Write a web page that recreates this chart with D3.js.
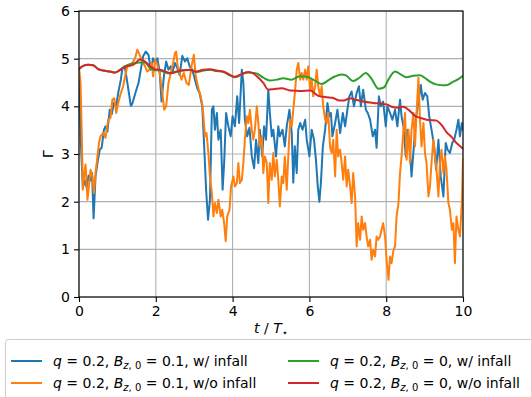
<!DOCTYPE html>
<html>
<head>
<meta charset="utf-8">
<script src="https://cdn.jsdelivr.net/npm/d3@7"></script>
<style>
  html, body { margin: 0; padding: 0; background: #fff; }
  svg { display: block; font-family: "DejaVu Sans", sans-serif; }
</style>
</head>
<body>
<svg id="chart" width="531" height="397"></svg>
<script>
// Growth-rate histories Γ(t) for four runs, time in units of T⋆
const xTicks = [0, 2, 4, 6, 8, 10];
const yTicks = [0, 1, 2, 3, 4, 5, 6];

const bz01Infall = [[0,4.8],[0.05,3.2],[0.1,2.3],[0.15,2.45],[0.2,2.3],[0.25,2.55],[0.3,2.45],[0.34,2.6],[0.38,1.65],[0.43,2.53],[0.48,2.81],[0.54,3.09],[0.59,3.13],[0.65,3.51],[0.69,3.58],[0.74,3.47],[0.8,3.93],[0.85,3.83],[0.91,4.07],[0.97,4.0],[1.02,4.28],[1.09,4.56],[1.13,4.8],[1.19,4.84],[1.26,4.49],[1.35,4.01],[1.39,4.06],[1.48,4.31],[1.55,4.49],[1.61,4.77],[1.67,5.05],[1.74,5.15],[1.81,5.08],[1.87,4.77],[1.93,5.01],[1.98,4.91],[2.04,5.01],[2.1,4.73],[2.15,4.1],[2.21,4.63],[2.27,4.94],[2.33,4.77],[2.39,4.84],[2.43,4.7],[2.5,4.91],[2.56,4.8],[2.62,4.66],[2.69,5.06],[2.76,4.94],[2.82,5.01],[2.88,4.84],[2.95,4.77],[3.02,4.56],[3.08,4.38],[3.14,4.28],[3.21,4.0],[3.26,3.16],[3.31,2.25],[3.36,1.62],[3.41,2.04],[3.46,3.93],[3.5,4.0],[3.54,3.51],[3.59,3.86],[3.63,3.3],[3.69,3.51],[3.74,2.25],[3.78,2.81],[3.83,3.86],[3.89,3.58],[3.95,3.37],[4.0,3.79],[4.06,3.58],[4.12,4.21],[4.17,3.65],[4.24,4.77],[4.28,4.49],[4.32,3.72],[4.38,3.37],[4.44,3.55],[4.5,2.95],[4.56,2.7],[4.61,3.3],[4.67,2.81],[4.71,3.51],[4.77,2.95],[4.82,3.58],[4.87,3.3],[4.93,4.35],[4.97,3.86],[5.02,3.37],[5.06,3.51],[5.13,2.95],[5.19,3.58],[5.23,3.37],[5.3,3.51],[5.36,3.16],[5.41,3.58],[5.48,3.93],[5.54,3.44],[5.58,2.4],[5.62,3.16],[5.67,2.6],[5.71,3.51],[5.76,3.65],[5.82,3.51],[5.89,3.72],[5.93,3.3],[6.0,2.95],[6.06,3.51],[6.12,3.3],[6.17,2.88],[6.22,2.3],[6.26,2.0],[6.3,2.4],[6.35,3.16],[6.41,3.51],[6.47,4.07],[6.52,3.79],[6.56,3.86],[6.6,3.37],[6.67,3.65],[6.73,3.93],[6.8,3.44],[6.87,3.86],[6.93,3.58],[6.99,3.93],[7.04,4.21],[7.1,4.31],[7.16,4.0],[7.23,4.28],[7.29,4.42],[7.34,4.0],[7.4,4.35],[7.47,3.93],[7.52,3.86],[7.58,3.72],[7.65,3.37],[7.71,3.51],[7.75,3.13],[7.81,4.21],[7.86,4.0],[7.92,4.1],[7.99,3.58],[8.03,4.0],[8.1,3.86],[8.16,3.72],[8.23,3.93],[8.29,3.58],[8.36,4.14],[8.4,3.79],[8.45,3.58],[8.51,2.95],[8.55,3.51],[8.6,3.3],[8.66,2.53],[8.72,3.16],[8.78,3.79],[8.84,4.07],[8.9,4.45],[8.95,4.14],[9.01,4.28],[9.07,4.21],[9.12,3.79],[9.18,3.51],[9.25,3.16],[9.3,2.67],[9.36,3.3],[9.42,2.53],[9.49,2.11],[9.55,3.23],[9.6,3.09],[9.66,3.02],[9.72,3.23],[9.77,3.3],[9.83,3.51],[9.88,3.72],[9.92,3.37],[9.97,3.65],[10,3.51]];

const bz01NoInfall = [[0,4.8],[0.04,4.5],[0.07,3.51],[0.1,2.25],[0.13,2.53],[0.17,2.78],[0.22,2.04],[0.26,2.32],[0.3,2.67],[0.35,2.53],[0.39,2.18],[0.43,2.6],[0.48,2.95],[0.52,3.23],[0.56,3.37],[0.63,3.44],[0.69,3.34],[0.76,3.72],[0.82,3.76],[0.87,4.14],[0.92,4.17],[0.97,3.86],[1.02,4.07],[1.09,4.28],[1.15,4.42],[1.2,4.63],[1.26,4.84],[1.32,4.84],[1.39,4.91],[1.46,5.01],[1.52,5.19],[1.58,5.08],[1.65,4.94],[1.72,4.84],[1.78,4.73],[1.84,4.77],[1.89,4.91],[1.93,4.63],[1.98,4.98],[2.04,4.87],[2.1,4.7],[2.17,4.28],[2.22,3.93],[2.27,4.0],[2.33,4.49],[2.39,4.7],[2.45,4.91],[2.5,5.12],[2.53,5.15],[2.57,4.84],[2.62,4.7],[2.67,4.56],[2.73,4.7],[2.8,4.49],[2.86,4.45],[2.93,4.84],[2.99,5.08],[3.04,4.63],[3.11,4.38],[3.17,4.21],[3.22,4.0],[3.28,3.37],[3.32,3.44],[3.37,3.02],[3.41,2.53],[3.46,2.18],[3.5,1.69],[3.54,1.97],[3.59,1.76],[3.63,2.04],[3.69,1.69],[3.73,1.83],[3.78,1.55],[3.82,1.17],[3.86,1.69],[3.92,1.83],[3.96,2.32],[4.02,2.53],[4.06,2.32],[4.11,2.39],[4.15,2.81],[4.19,2.39],[4.24,2.46],[4.28,2.81],[4.32,3.3],[4.37,3.79],[4.41,3.65],[4.45,3.93],[4.5,3.51],[4.54,3.3],[4.58,3.51],[4.63,4.0],[4.67,3.65],[4.71,3.16],[4.76,3.37],[4.8,2.6],[4.84,2.95],[4.89,2.81],[4.93,1.97],[4.97,2.81],[5.02,2.46],[5.06,3.02],[5.1,2.53],[5.15,2.88],[5.19,2.46],[5.23,1.9],[5.28,2.53],[5.32,2.39],[5.36,2.95],[5.41,2.25],[5.45,2.95],[5.5,3.72],[5.54,3.58],[5.58,3.93],[5.63,4.35],[5.67,4.77],[5.71,4.91],[5.76,4.56],[5.8,4.7],[5.84,4.56],[5.89,4.77],[5.93,4.56],[5.97,4.84],[6.02,4.35],[6.06,4.56],[6.1,4.21],[6.15,4.42],[6.19,4.77],[6.23,4.42],[6.28,4.21],[6.32,4.42],[6.36,4.0],[6.41,3.72],[6.45,3.65],[6.49,3.86],[6.54,3.13],[6.58,3.02],[6.62,3.3],[6.67,2.53],[6.71,3.51],[6.75,2.95],[6.8,3.09],[6.84,2.81],[6.88,2.46],[6.93,2.95],[6.97,2.32],[7.01,2.67],[7.06,2.32],[7.1,1.97],[7.14,2.6],[7.19,2.11],[7.23,1.06],[7.27,1.55],[7.32,1.2],[7.36,1.69],[7.4,1.41],[7.45,1.55],[7.49,1.27],[7.53,1.06],[7.58,1.2],[7.62,0.78],[7.66,0.99],[7.71,0.85],[7.75,1.27],[7.79,1.2],[7.84,1.27],[7.88,1.41],[7.92,1.55],[7.97,1.27],[8.01,0.78],[8.06,0.36],[8.1,0.85],[8.14,0.71],[8.19,0.99],[8.23,1.06],[8.27,1.69],[8.32,1.97],[8.36,2.6],[8.4,2.95],[8.45,3.51],[8.49,3.86],[8.53,2.88],[8.58,3.51],[8.62,2.81],[8.66,3.51],[8.71,3.86],[8.75,3.16],[8.79,3.86],[8.84,4.6],[8.88,3.72],[8.92,3.16],[8.97,3.65],[9.01,3.02],[9.05,2.81],[9.1,2.11],[9.14,2.32],[9.18,2.81],[9.23,3.3],[9.27,2.95],[9.31,2.67],[9.36,2.11],[9.4,2.81],[9.44,3.09],[9.49,2.6],[9.53,2.95],[9.57,2.67],[9.62,1.97],[9.66,1.83],[9.71,1.41],[9.75,1.55],[9.79,0.71],[9.83,1.69],[9.88,1.41],[9.92,1.27],[9.97,1.97],[10,2.9]];

const bz0Infall = [[0,4.78],[0.11,4.85],[0.24,4.87],[0.37,4.86],[0.5,4.78],[0.63,4.75],[0.81,4.73],[0.94,4.71],[1.07,4.77],[1.24,4.86],[1.41,4.9],[1.59,4.92],[1.72,4.92],[1.85,4.8],[1.98,4.76],[2.11,4.75],[2.37,4.69],[2.63,4.74],[2.89,4.76],[3.06,4.72],[3.24,4.75],[3.41,4.77],[3.59,4.74],[3.76,4.72],[3.93,4.65],[4.06,4.61],[4.19,4.65],[4.36,4.71],[4.62,4.69],[4.8,4.6],[4.97,4.54],[5.15,4.56],[5.32,4.59],[5.54,4.56],[5.75,4.63],[5.93,4.62],[6.12,4.55],[6.32,4.47],[6.5,4.55],[6.62,4.61],[6.84,4.67],[6.95,4.65],[7.14,4.53],[7.3,4.6],[7.47,4.7],[7.6,4.6],[7.8,4.37],[7.95,4.4],[8.05,4.55],[8.23,4.73],[8.4,4.66],[8.53,4.61],[8.7,4.64],[8.88,4.65],[9.0,4.6],[9.14,4.52],[9.3,4.46],[9.49,4.44],[9.6,4.45],[9.75,4.52],[9.88,4.57],[10,4.64]];

const bz0NoInfall = [[0,4.78],[0.11,4.85],[0.24,4.87],[0.37,4.86],[0.5,4.78],[0.63,4.75],[0.81,4.73],[0.94,4.71],[1.07,4.76],[1.24,4.84],[1.41,4.87],[1.59,4.98],[1.72,4.94],[1.85,4.84],[1.98,4.78],[2.11,4.77],[2.37,4.7],[2.63,4.75],[2.89,4.77],[3.06,4.73],[3.24,4.77],[3.41,4.78],[3.59,4.75],[3.76,4.73],[3.93,4.66],[4.06,4.62],[4.19,4.66],[4.41,4.72],[4.54,4.69],[4.63,4.63],[4.8,4.49],[4.93,4.35],[5.06,4.36],[5.28,4.38],[5.5,4.33],[5.76,4.32],[6.02,4.33],[6.23,4.22],[6.45,4.19],[6.6,4.18],[6.79,4.12],[6.9,4.12],[7.05,4.17],[7.2,4.14],[7.4,4.1],[7.66,4.07],[7.92,4.05],[8.05,4.03],[8.14,3.99],[8.3,3.97],[8.44,3.99],[8.62,3.9],[8.75,3.8],[8.88,3.76],[9.05,3.72],[9.2,3.71],[9.31,3.7],[9.45,3.6],[9.57,3.46],[9.7,3.36],[9.83,3.23],[9.92,3.17],[10,3.11]];

const seriesColors = ["#1f77b4", "#ff7f0e", "#2ca02c", "#d62728"];
const seriesBz = ["0.1", "0.1", "0", "0"];
const seriesTag = ["w/ infall", "w/o infall", "w/ infall", "w/o infall"];

const svg = d3.select("#chart");
const plotLeft = 79, plotRight = 463, plotTop = 11, plotBottom = 297;

const x = d3.scaleLinear().domain([0, 10]).range([plotLeft, plotRight]);
const y = d3.scaleLinear().domain([0, 6]).range([plotBottom, plotTop]);

// grid
const grid = svg.append("g").attr("stroke", "#b0b0b0").attr("stroke-width", 1.1);
grid.selectAll("line.gx").data(xTicks).join("line").attr("class", "gx")
  .attr("x1", d => x(d)).attr("x2", d => x(d)).attr("y1", plotTop).attr("y2", plotBottom);
grid.selectAll("line.gy").data(yTicks).join("line").attr("class", "gy")
  .attr("x1", plotLeft).attr("x2", plotRight).attr("y1", d => y(d)).attr("y2", d => y(d));

// clip to axes
svg.append("clipPath").attr("id", "plotClip").append("rect")
  .attr("x", plotLeft).attr("y", plotTop)
  .attr("width", plotRight - plotLeft).attr("height", plotBottom - plotTop);

const lines = svg.append("g").attr("clip-path", "url(#plotClip)");
const jagged = d3.line().x(d => x(d[0])).y(d => y(d[1]));
const smooth = d3.line().x(d => x(d[0])).y(d => y(d[1])).curve(d3.curveMonotoneX);

[[bz01Infall, jagged], [bz01NoInfall, jagged], [bz0Infall, smooth], [bz0NoInfall, smooth]]
  .forEach(([data, gen], i) => {
    lines.append("path").datum(data)
      .attr("d", gen)
      .attr("fill", "none")
      .attr("stroke", seriesColors[i])
      .attr("stroke-width", 2)
      .attr("stroke-linejoin", "round")
      .attr("stroke-linecap", "square");
  });

// axes
const xAxis = svg.append("g").attr("transform", `translate(0,${plotBottom})`)
  .call(d3.axisBottom(x).tickValues(xTicks).tickFormat(d3.format("d")).tickSize(5).tickPadding(4));
const yAxis = svg.append("g").attr("transform", `translate(${plotLeft},0)`)
  .call(d3.axisLeft(y).tickValues(yTicks).tickFormat(d3.format("d")).tickSize(5).tickPadding(4));
[xAxis, yAxis].forEach(g => {
  g.select(".domain").remove();
  g.selectAll(".tick line").attr("stroke", "#000").attr("stroke-width", 1.1);
  g.selectAll(".tick text").attr("font-size", 14).attr("fill", "#000")
    .attr("font-family", "DejaVu Sans");
});

// frame
svg.append("rect").attr("x", plotLeft).attr("y", plotTop)
  .attr("width", plotRight - plotLeft).attr("height", plotBottom - plotTop)
  .attr("fill", "none").attr("stroke", "#000").attr("stroke-width", 1.1);

// axis labels
const xl = svg.append("text").attr("x", (plotLeft + plotRight) / 2).attr("y", 333)
  .attr("text-anchor", "middle").attr("font-size", 14);
xl.append("tspan").attr("font-style", "italic").text("t");
xl.append("tspan").text(" / ");
xl.append("tspan").attr("font-style", "italic").text("T");
xl.append("tspan").attr("font-size", 10).attr("dy", 3).text("⋆");

svg.append("text").attr("transform", "translate(53,154) rotate(-90)")
  .attr("text-anchor", "middle").attr("font-size", 14).text("Γ");

// legend
const legend = svg.append("g");
legend.append("rect").attr("x", 5.5).attr("y", 339.5).attr("width", 560).attr("height", 80)
  .attr("rx", 3).attr("fill", "#fff").attr("fill-opacity", 0.8)
  .attr("stroke", "#cccccc").attr("stroke-width", 1);

const colX = [11, 288];
const rowY = [361, 383];
seriesColors.forEach((c, i) => {
  const cx = colX[Math.floor(i / 2)], cy = rowY[i % 2];
  legend.append("line").attr("x1", cx).attr("x2", cx + 31).attr("y1", cy).attr("y2", cy)
    .attr("stroke", c).attr("stroke-width", 2);
  const t = legend.append("text").attr("x", cx + 42).attr("y", cy + 5).attr("font-size", 14);
  t.append("tspan").attr("font-style", "italic").text("q");
  t.append("tspan").text(" = 0.2, ");
  t.append("tspan").attr("font-style", "italic").text("B");
  t.append("tspan").attr("font-size", 10).attr("dy", 3).attr("font-style", "italic").text("z");
  t.append("tspan").attr("font-size", 10).text(", 0");
  t.append("tspan").attr("dy", -3).text(" = " + seriesBz[i] + ", " + seriesTag[i]);
});
</script>
</body>
</html>
